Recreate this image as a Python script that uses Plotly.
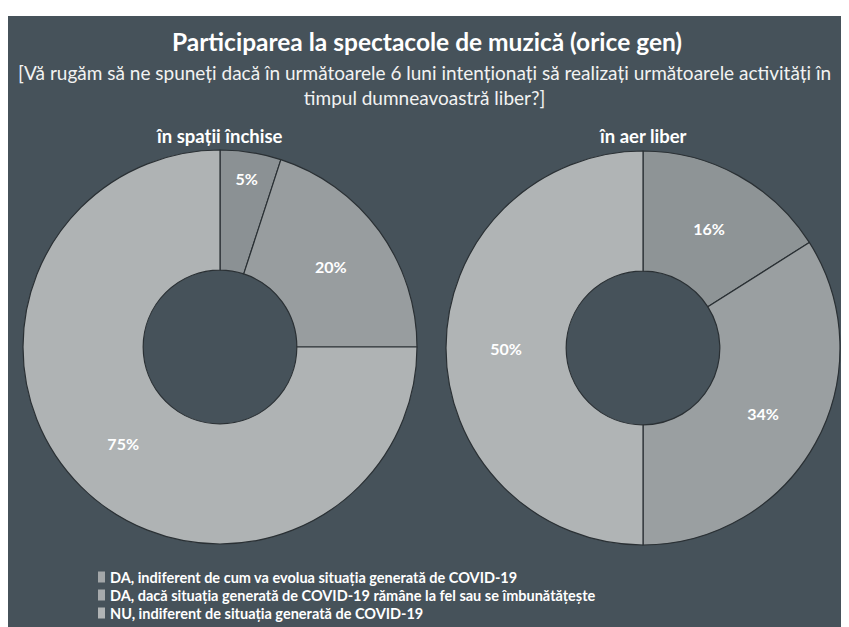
import plotly.graph_objects as go

labels = [
    "DA, indiferent de cum va evolua situația generată de COVID-19",
    "DA, dacă situația generată de COVID-19 rămâne la fel sau se îmbunătățește",
    "NU, indiferent de situația generată de COVID-19",
]
inchise_values = [5, 20, 75]
aer_liber_values = [16, 34, 50]
panel_titles = ["în spații închise", "în aer liber"]

title = "Participarea la spectacole de muzică (orice gen)"
subtitle = ("[Vă rugăm să ne spuneți dacă în următoarele 6 luni intenționați să realizați următoarele activități în"
            "<br>timpul dumneavoastră liber?]")

BG = "#46525a"
slice_colors_left = ["#8b9194", "#989d9f", "#afb3b4"]
slice_colors_right = ["#8e9496", "#9a9fa1", "#b0b4b5"]
legend_colors = ["#a3a7a9", "#a6aaac", "#b0b4b5"]
FONT = "Lato"

W, H = 849, 627
OFF = 8  # page body margin


def px(x):
    return (x - OFF) / W


def py(y):
    return 1 - (y - OFF) / H


fig = go.Figure()

common = dict(
    hole=0.39,
    sort=False,
    direction="clockwise",
    rotation=0,
    texttemplate="<b>%{value}%</b>",
    textposition="inside",
    insidetextorientation="horizontal",
    textfont=dict(color="white", size=16, family=FONT),
    hoverinfo="label+value",
    showlegend=False,
)

fig.add_trace(go.Pie(
    labels=labels, values=inchise_values,
    marker=dict(colors=slice_colors_left, line=dict(color="#2a3034", width=1.2)),
    domain=dict(x=[px(23), px(417)], y=[py(544), py(150)]),
    name=panel_titles[0],
    **common,
))
fig.add_trace(go.Pie(
    labels=labels, values=aer_liber_values,
    marker=dict(colors=slice_colors_right, line=dict(color="#2a3034", width=1.2)),
    domain=dict(x=[px(446), px(840)], y=[py(545), py(151)]),
    name=panel_titles[1],
    **common,
))

# white strip at the top of the scan
fig.add_shape(type="rect", xref="paper", yref="paper",
              x0=0, x1=1, y0=py(16), y1=1,
              fillcolor="white", line=dict(width=0), layer="below")

fig.add_annotation(x=px(427), y=py(42), xref="paper", yref="paper",
                   text=f"<b>{title}</b>", showarrow=False,
                   font=dict(family=FONT, size=24.5, color="white"),
                   xanchor="center", yanchor="middle")
fig.add_annotation(x=px(424), y=py(85), xref="paper", yref="paper",
                   text=subtitle, showarrow=False,
                   font=dict(family=FONT, size=19, color="#f2f2f2"),
                   xanchor="center", yanchor="middle", align="center")
for cx, t in zip([219, 643], panel_titles):
    fig.add_annotation(x=px(cx), y=py(136), xref="paper", yref="paper",
                       text=f"<b>{t}</b>", showarrow=False,
                       font=dict(family=FONT, size=18.5, color="white"),
                       xanchor="center", yanchor="middle")

# legend rows
row_y = [577, 595, 613]
for yy, lab, col in zip(row_y, labels, legend_colors):
    fig.add_shape(type="rect", xref="paper", yref="paper",
                  x0=px(98), x1=px(105), y0=py(yy + 5.5), y1=py(yy - 5.5),
                  fillcolor=col, line=dict(width=0))
    fig.add_annotation(x=px(108), y=py(yy), xref="paper", yref="paper",
                       text=f"<b>{lab}</b>", showarrow=False,
                       font=dict(family=FONT, size=14.5, color="white"),
                       xanchor="left", yanchor="middle")

fig.update_layout(
    width=W, height=H,
    margin=dict(l=0, r=0, t=0, b=0),
    paper_bgcolor=BG,
    plot_bgcolor="rgba(0,0,0,0)",
    font=dict(family=FONT, color="white"),
    showlegend=False,
)

fig.write_html("out.html")
